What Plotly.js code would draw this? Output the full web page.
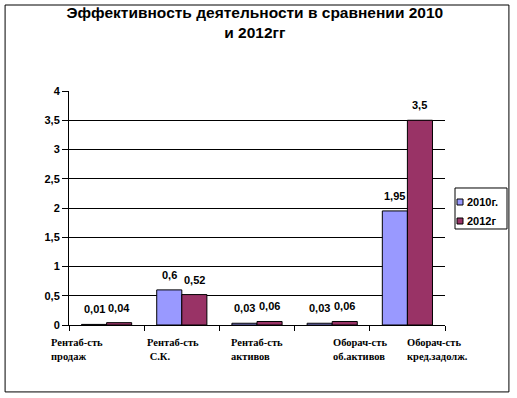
<!DOCTYPE html>
<html><head><meta charset="utf-8">
<script src="https://cdn.plot.ly/plotly-3.0.1.min.js"></script>
<style>html,body{margin:0;padding:0;background:#fff;}#chart{width:517px;height:398px;}</style>
</head><body><div id="chart"></div>
<script>
const categories = ["Рентаб-сть продаж", "Рентаб-сть С.К.", "Рентаб-сть активов", "Оборач-сть об.активов", "Оборач-сть кред.задолж."];
const categoryLabels = ["Рентаб-сть<br>продаж", "Рентаб-сть<br> С.К.", "Рентаб-сть<br>активов", "Оборач-сть<br>об.активов", "Оборач-сть<br>кред.задолж."];
const values2010 = [0.01, 0.6, 0.03, 0.03, 1.95];
const values2012 = [0.04, 0.52, 0.06, 0.06, 3.5];
const seriesNames = ["2010г.", "2012г"];
const seriesColors = ["#9999FF", "#993366"];
const yTickVals = [0, 0.5, 1, 1.5, 2, 2.5, 3, 3.5, 4];
const yTickText = ["0", "0,5", "1", "1,5", "2", "2,5", "3", "3,5", "4"];

const fmt = v => String(v).replace('.', ',');
const labelShifts = [-58, -37, -28, -1, -2];
const boldArial = {family:'Arial, Liberation Sans', size:11, color:'#000', weight:'bold'};

const traces = [values2010, values2012].map((vals, s) => ({
  type:'bar', name:seriesNames[s], x:categories, y:vals,
  marker:{color:seriesColors[s], line:{color:'#000', width:1}}, hoverinfo:'none', showlegend:false
}));

const annotations = [];
[values2010, values2012].forEach((vals, s) => {
  vals.forEach((v, i) => {
    annotations.push({x:i, y:v, xref:'x', yref:'y', text:fmt(v), showarrow:false,
      xanchor:'center', yanchor:'bottom', xshift: s===0 ? -12.5 : 12.5, yshift:7, font:boldArial});
  });
});
categoryLabels.forEach((t, i) => {
  annotations.push({x:i, y:0, xref:'x', yref:'y', text:t, showarrow:false,
    xanchor:'left', yanchor:'top', align:'left', xshift:labelShifts[i], yshift:-10,
    font:{family:'Liberation Serif, Times New Roman', size:10.5, color:'#000', weight:'bold'}});
});

// custom compact legend (box, swatches, names)
const legendRowsY = [0.5256, 0.4444];
const shapes = [
  {type:'rect', xref:'paper', yref:'paper', x0:-0.170, x1:1.170, y0:-0.286, y1:1.3675,
    line:{color:'#000', width:1}, fillcolor:'rgba(0,0,0,0)'},
  {type:'rect', xref:'paper', yref:'paper', x0:1.0266, x1:1.1649, y0:0.4103, y1:0.5855,
    line:{color:'#000', width:1}, fillcolor:'#fff'}
];
seriesNames.forEach((n, s) => {
  shapes.push({type:'rect', xref:'paper', yref:'paper', x0:1.0319, x1:1.0479,
    y0:legendRowsY[s]-0.0128, y1:legendRowsY[s]+0.0128, line:{color:'#000', width:1}, fillcolor:seriesColors[s]});
  annotations.push({xref:'paper', yref:'paper', x:1.0532, y:legendRowsY[s], text:n, showarrow:false,
    xanchor:'left', yanchor:'middle', font:boldArial});
});

const layout = {
  width:517, height:398,
  margin:{l:69, r:72, t:91, b:73},
  paper_bgcolor:'#fff', plot_bgcolor:'#fff',
  title:{text:'Эффективность деятельности в сравнении 2010<br>и 2012гг', x:0.493, xanchor:'center', y:0.955, yanchor:'top',
    font:{family:'Arial, Liberation Sans', size:15.5, color:'#000', weight:'bold'}},
  barmode:'group', bargap:0.333, bargroupgap:0,
  showlegend:false,
  xaxis:{type:'category', range:[-0.5, 4.5], showticklabels:false, tickson:'boundaries', ticks:'outside', ticklen:5, tickcolor:'#000',
    showline:true, linecolor:'#000', linewidth:1, showgrid:false, fixedrange:true},
  yaxis:{range:[0,4], tickvals:yTickVals, ticktext:yTickText, ticks:'outside', ticklen:6, tickcolor:'#000',
    showline:true, linecolor:'#000', linewidth:1, showgrid:true, gridcolor:'#000', gridwidth:1, zeroline:false,
    tickfont:boldArial, fixedrange:true},
  annotations:annotations,
  shapes:shapes
};
Plotly.newPlot('chart', traces, layout, {displayModeBar:false, staticPlot:true});
</script></body></html>
